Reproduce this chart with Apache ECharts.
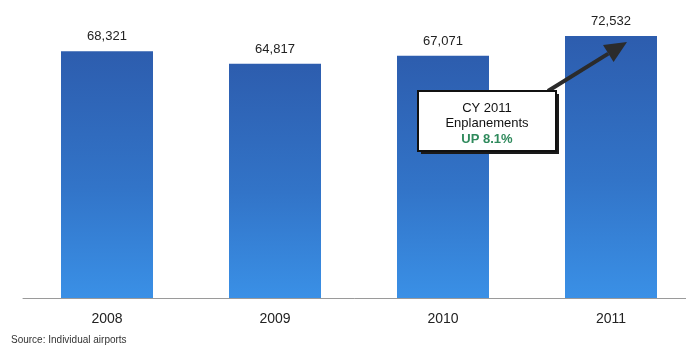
<!DOCTYPE html>
<html>
<head>
<meta charset="utf-8">
<script src="https://cdn.jsdelivr.net/npm/echarts@6/dist/echarts.min.js"></script>
<style>
  html, body { margin: 0; padding: 0; background: #fff; }
  #chart { width: 686px; height: 348px; }
</style>
</head>
<body>
<div id="chart"></div>
<script>
// Calendar-year enplanements
const years = ['2008', '2009', '2010', '2011'];
const enplanements = [68321, 64817, 67071, 72532];
const sourceNote = 'Source: Individual airports';
const calloutLines = ['CY 2011', 'Enplanements', 'UP 8.1%'];

const FONT = 'Liberation Sans, Arial, sans-serif';
const chart = echarts.init(document.getElementById('chart'));

const barFill = new echarts.graphic.LinearGradient(0, 0, 0, 1, [
  { offset: 0, color: '#2d5dae' },
  { offset: 0.55, color: '#3274c8' },
  { offset: 1, color: '#3a90e6' }
]);

chart.setOption({
  animation: false,
  textStyle: { fontFamily: FONT },
  grid: { left: 23, top: 9, width: 672, height: 289, outerBoundsMode: 'none', containLabel: false },
  xAxis: {
    type: 'category',
    data: years,
    axisLine: { lineStyle: { color: '#9a9a9a', width: 1 } },
    axisTick: { show: false },
    axisLabel: { color: '#222', fontSize: 14, margin: 14 }
  },
  yAxis: {
    type: 'value',
    min: 0,
    max: 80000,
    show: false,
    splitLine: { show: false }
  },
  series: [{
    type: 'bar',
    data: enplanements,
    barWidth: 92,
    itemStyle: { color: barFill },
    label: {
      show: true,
      position: 'top',
      distance: 8,
      color: '#222',
      fontSize: 13,
      formatter: p => p.value.toLocaleString('en-US')
    }
  }]
});

// Callout box and arrow pointing at the 2011 bar
const tip = chart.convertToPixel({ xAxisIndex: 0, yAxisIndex: 0 }, ['2011', enplanements[3]]);
const tipX = tip[0] + 16, tipY = tip[1] + 6;
const box = { x: 418, y: 91, w: 138, h: 60 };
const startX = box.x + box.w - 8, startY = box.y;
const ang = Math.atan2(tipY - startY, tipX - startX);
const headLen = 22, headHalf = 10;
const baseX = tipX - headLen * Math.cos(ang), baseY = tipY - headLen * Math.sin(ang);
const nx = -Math.sin(ang), ny = Math.cos(ang);

chart.setOption({
  graphic: [
    {
      type: 'text',
      left: 11,
      top: 335,
      style: { text: sourceNote, fill: '#333', fontSize: 10, fontFamily: FONT }
    },
    {
      type: 'line',
      shape: { x1: startX, y1: startY, x2: baseX, y2: baseY },
      style: { stroke: '#2b2b2b', lineWidth: 4 },
      z: 100
    },
    {
      type: 'polygon',
      shape: { points: [[tipX, tipY], [baseX + nx * headHalf, baseY + ny * headHalf], [baseX - nx * headHalf, baseY - ny * headHalf]] },
      style: { fill: '#2b2b2b' },
      z: 100
    },
    {
      type: 'rect',
      shape: { x: box.x + 3, y: box.y + 3, width: box.w, height: box.h },
      style: { fill: '#1a1a1a' },
      z: 101
    },
    {
      type: 'rect',
      shape: { x: box.x, y: box.y, width: box.w, height: box.h },
      style: { fill: '#fff', stroke: '#111', lineWidth: 2 },
      z: 102
    },
    {
      type: 'text',
      x: box.x + box.w / 2, y: 108,
      style: { text: calloutLines[0], fill: '#111', fontSize: 13, align: 'center', verticalAlign: 'middle', fontFamily: FONT },
      z: 103
    },
    {
      type: 'text',
      x: box.x + box.w / 2, y: 123,
      style: { text: calloutLines[1], fill: '#111', fontSize: 13, align: 'center', verticalAlign: 'middle', fontFamily: FONT },
      z: 103
    },
    {
      type: 'text',
      x: box.x + box.w / 2, y: 139,
      style: { text: calloutLines[2], fill: '#2f8a5c', fontSize: 13, fontWeight: 'bold', align: 'center', verticalAlign: 'middle', fontFamily: FONT },
      z: 103
    }
  ]
});
</script>
</body>
</html>
